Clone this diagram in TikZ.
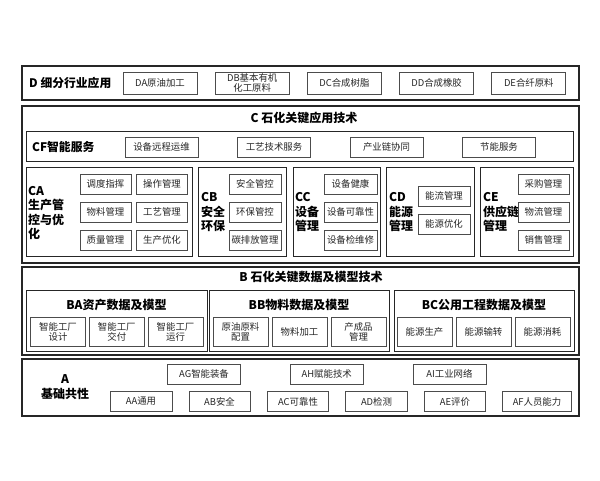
\documentclass[tikz,border=0pt]{standalone}
\usepackage{fontspec}
\setmainfont{Noto Sans CJK SC}
\usetikzlibrary{positioning}

\tikzset{
	layer/.style={
		rectangle,
		draw=black!85, line width=1.3pt,
		minimum width=557pt,
		inner sep=0pt,
	},
	group/.style={
		rectangle,
		draw=black!85, line width=1pt,
		inner sep=0pt,
	},
	item/.style={
		rectangle,
		draw=black!70, line width=0.7pt,
		fill=white, text=black!85,
		font=\fontsize{9.4}{10}\selectfont,
		minimum height=20pt,
		inner sep=1pt,
		align=center,
	},
	ditem/.style={item, minimum width=74pt, minimum height=22pt},
	bitem/.style={item, minimum width=55pt, minimum height=29pt},
	head/.style={
		font=\fontsize{12}{14.5}\selectfont\bfseries,
		align=left,
		inner sep=0pt,
	},
}

\begin{document}
\begin{tikzpicture}[x=1pt, y=1pt]
	\useasboundingbox (0,0) rectangle (600,480);
	
	\node[layer, minimum height=34pt](D) at (300.5,397){};
	\node[head, anchor=west, font=\fontsize{11.8}{14}\selectfont\bfseries](DT) at (29,397){D 细分行业应用};
	\node[ditem](DA) at (160,397){DA原油加工};
	\node[ditem, right of=DA, node distance=92.2pt](DB){DB基本有机\\化工原料};
	\node[ditem, right of=DB, node distance=92.2pt](DC){DC合成树脂};
	\node[ditem, right of=DC, node distance=92.2pt](DD){DD合成橡胶};
	\node[ditem, right of=DD, node distance=92.2pt](DE){DE合纤原料};
	
	
	\node[layer, minimum height=157pt](C) at (300.5,295.5){};
	\node[head](CT) at (304,362){C 石化关键应用技术};
	
	\node[group, minimum width=547pt, minimum height=30pt](CF) at (299.5,333){};
	\node[head, anchor=west, font=\fontsize{11.8}{14}\selectfont\bfseries](CFT) at (32,333){CF智能服务};
	\node[item, minimum width=73pt](CF1) at (161.5,333){设备远程运维};
	\node[item, minimum width=73pt, right of=CF1, node distance=112.5pt](CF2){工艺技术服务};
	\node[item, minimum width=73pt, right of=CF2, node distance=112.5pt](CF3){产业链协同};
	\node[item, minimum width=73pt, right of=CF3, node distance=112.5pt](CF4){节能服务};
	
	\node[group, minimum width=166pt, minimum height=89pt](CA) at (109,267.5){};
	\node[head, anchor=west](CAT) at (28,267){CA\\生产管\\控与优\\化};
	\node[item, minimum width=51pt](CA1) at (105.5,296){调度指挥};
	\node[item, minimum width=51pt, right of=CA1, node distance=56.5pt](CA2){操作管理};
	\node[item, minimum width=51pt, below of=CA1, node distance=28pt](CA3){物料管理};
	\node[item, minimum width=51pt, right of=CA3, node distance=56.5pt](CA4){工艺管理};
	\node[item, minimum width=51pt, below of=CA3, node distance=28pt](CA5){质量管理};
	\node[item, minimum width=51pt, right of=CA5, node distance=56.5pt](CA6){生产优化};
	
	\node[group, minimum width=88pt, minimum height=89pt](CB) at (242,267.5){};
	\node[head, anchor=west](CBT) at (201,267.5){CB\\安全\\环保};
	\node[item, minimum width=52pt](CB1) at (255,296){安全管控};
	\node[item, minimum width=52pt, below of=CB1, node distance=28pt](CB2){环保管控};
	\node[item, minimum width=52pt, below of=CB2, node distance=28pt](CB3){碳排放管理};
	
	\node[group, minimum width=87pt, minimum height=89pt](CC) at (336.5,267.5){};
	\node[head, anchor=west](CCT) at (295,267.5){CC\\设备\\管理};
	\node[item, minimum width=53pt](CC1) at (350.5,296){设备健康};
	\node[item, minimum width=53pt, below of=CC1, node distance=28pt](CC2){设备可靠性};
	\node[item, minimum width=53pt, below of=CC2, node distance=28pt](CC3){设备检维修};
	
	\node[group, minimum width=88pt, minimum height=89pt](CD) at (430,267.5){};
	\node[head, anchor=west](CDT) at (389,267.5){CD\\能源\\管理};
	\node[item, minimum width=52pt](CD1) at (444,284){能流管理};
	\node[item, minimum width=52pt, below of=CD1, node distance=28pt](CD2){能源优化};
	
	\node[group, minimum width=93pt, minimum height=89pt](CE) at (526.5,267.5){};
	\node[head, anchor=west](CET) at (483,267.5){CE\\供应链\\管理};
	\node[item, minimum width=51pt](CE1) at (543.5,296){采购管理};
	\node[item, minimum width=51pt, below of=CE1, node distance=28pt](CE2){物流管理};
	\node[item, minimum width=51pt, below of=CE2, node distance=28pt](CE3){销售管理};
	
	
	\node[layer, minimum height=88pt](B) at (300.5,169){};
	\node[head](BT) at (311,203){B 石化关键数据及模型技术};
	
	\node[group, minimum width=181pt, minimum height=61pt](BA) at (116.5,159.5){};
	\node[head](BAT) at (116.5,175){BA资产数据及模型};
	\node[bitem](BA1) at (58,148.5){智能工厂\\设计};
	\node[bitem, right of=BA1, node distance=58.75pt](BA2){智能工厂\\交付};
	\node[bitem, right of=BA2, node distance=58.75pt](BA3){智能工厂\\运行};
	
	\node[group, minimum width=180pt, minimum height=61pt](BB) at (299,159.5){};
	\node[head](BBT) at (299,175){BB物料数据及模型};
	\node[bitem](BB1) at (240.5,148.5){原油原料\\配置};
	\node[bitem, right of=BB1, node distance=59pt](BB2){物料加工};
	\node[bitem, right of=BB2, node distance=59pt](BB3){产成品\\管理};
	
	\node[group, minimum width=180pt, minimum height=61pt](BC) at (484,159.5){};
	\node[head](BCT) at (484,175){BC公用工程数据及模型};
	\node[bitem](BC1) at (424.5,148.5){能源生产};
	\node[bitem, right of=BC1, node distance=59pt](BC2){能源输转};
	\node[bitem, right of=BC2, node distance=59pt](BC3){能源消耗};
	
	
	\node[layer, minimum height=57pt](A) at (300.5,92.5){};
	\node[head, align=center](AT) at (65,93){A\\基础共性};
	\node[item, minimum width=73pt](AG) at (204,106){AG智能装备};
	\node[item, minimum width=73pt, right of=AG, node distance=122.75pt](AH){AH赋能技术};
	\node[item, minimum width=73pt, right of=AH, node distance=122.75pt](AI){AI工业网络};
	
	\node[item, minimum width=62pt](AA) at (141,78.5){AA通用};
	\node[item, minimum width=61pt, right of=AA, node distance=78.5pt](AB){AB安全};
	\node[item, minimum width=61pt, right of=AB, node distance=78.5pt](AC){AC可靠性};
	\node[item, minimum width=62pt, right of=AC, node distance=78.5pt](AD){AD检测};
	\node[item, minimum width=61pt, right of=AD, node distance=78.5pt](AE){AE评价};
	\node[item, minimum width=69pt, right of=AE, node distance=82pt](AF){AF人员能力};
\end{tikzpicture}
\end{document}
